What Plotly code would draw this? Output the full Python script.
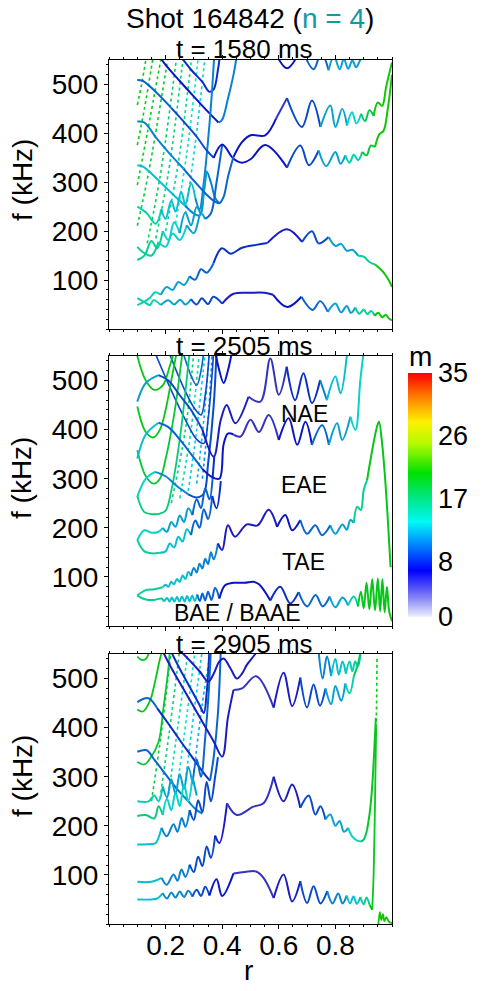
import plotly.graph_objects as go
from plotly.subplots import make_subplots
from plotly.colors import sample_colorscale

# ---------------- data (r, f[kHz]) ----------------
subtitles = ["t = 1580 ms", "t = 2505 ms", "t = 2905 ms"]
y_ticks = [100, 200, 300, 400, 500]
x_ticks = [0.2, 0.4, 0.6, 0.8]
m_ticks = [0, 8, 17, 26, 35]
gap_labels = ["NAE", "EAE", "TAE", "BAE / BAAE"]

# ---- panel 1 (t = 1580 ms)
p1_tae_low = [[0.10,63],[0.125,55],[0.145,49],[0.157,59],[0.183,49],[0.21,59],[0.23,50],[0.251,60],[0.27,50],[0.29,61],[0.31,50],[0.328,63],[0.35,51],[0.369,66],[0.40,52],[0.44,72],[0.50,74],[0.55,74],[0.58,70],[0.63,45],[0.68,66],[0.72,39],[0.746,57],[0.773,35],[0.80,52],[0.82,34],[0.84,47],[0.855,33],[0.87,44],[0.885,31],[0.90,40],[0.913,30],[0.926,37],[0.939,27],[0.952,33],[0.965,24],[0.978,29],[0.99,21],[1.0,18]]
p1_tae_low_m = [[0.10,15],[0.2,12],[0.3,9],[0.42,6],[0.6,7],[0.7,10],[0.78,12],[0.88,16],[0.95,21]]
p1_tae_up = [[0.10,49],[0.125,56],[0.145,64],[0.163,75],[0.183,70],[0.204,86],[0.225,80],[0.245,96],[0.265,90],[0.285,108],[0.305,101],[0.325,122],[0.345,115],[0.369,134],[0.399,165],[0.43,154],[0.47,166],[0.52,172],[0.56,176],[0.629,204],[0.682,178],[0.717,200],[0.741,175],[0.776,188],[0.80,170],[0.82,174],[0.84,160],[0.86,162],[0.88,150],[0.90,148],[0.92,137],[0.94,132],[0.96,122],[0.975,112],[0.99,98],[1.0,86]]
p1_tae_up_m = [[0.10,15],[0.2,12],[0.3,10],[0.38,8],[0.62,6],[0.7,9],[0.78,12],[0.9,16],[0.96,21]]
p1_w1 = [[0.10,141],[0.125,150],[0.15,180],[0.17,165],[0.19,200],[0.21,182],[0.23,218],[0.25,196],[0.27,238],[0.29,212],[0.31,250],[0.325,236],[0.335,280],[0.345,322]]
p1_w1_m = [[0.10,16],[0.2,14],[0.27,12]]
p1_w2 = [[0.10,168],[0.125,155],[0.15,150],[0.175,178],[0.20,168],[0.225,195],[0.25,182],[0.275,212],[0.30,196],[0.325,236],[0.34,225],[0.36,236],[0.38,300],[0.40,377]]
p1_w2_m = [[0.10,16],[0.2,14],[0.28,12],[0.36,10]]
p1_band = [[0.10,250],[0.133,237],[0.165,215],[0.185,245],[0.20,225],[0.22,262],[0.235,240],[0.255,280],[0.27,255],[0.29,298],[0.305,268],[0.32,245],[0.335,300],[0.35,385],[0.362,470],[0.372,560]]
p1_band_m = [[0.10,15],[0.2,13],[0.32,11]]
p1_line1 = [[0.10,509],[0.12,507],[0.17,482],[0.22,452],[0.27,420],[0.31,393],[0.345,365],[0.37,350],[0.40,377],[0.44,348],[0.47,340],[0.50,347],[0.552,376],[0.629,330],[0.676,375],[0.706,335],[0.741,365],[0.768,333],[0.80,362],[0.818,338],[0.835,355],[0.85,340],[0.865,356],[0.88,345],[0.895,362],[0.91,355],[0.925,375],[0.94,372],[0.955,398],[0.97,405],[0.985,450],[1.0,520]]
p1_line1_m = [[0.10,10],[0.25,9],[0.38,7],[0.66,9],[0.75,12],[0.85,15],[0.9,19],[0.95,21]]
p1_line2 = [[0.175,560],[0.20,540],[0.25,507],[0.30,475],[0.34,450],[0.37,432],[0.387,422],[0.40,428],[0.42,470],[0.44,520],[0.452,560]]
p1_line2_m = [[0.175,7],[0.39,11]]
p1_line3 = [[0.10,424],[0.125,422],[0.169,389],[0.215,358],[0.263,328],[0.30,303],[0.346,274],[0.37,262],[0.39,257],[0.405,270],[0.42,310],[0.44,352],[0.47,382],[0.50,396],[0.552,396],[0.59,430],[0.629,472],[0.682,413],[0.717,467],[0.747,413],[0.782,457],[0.80,413],[0.824,450],[0.841,416],[0.859,443],[0.874,420],[0.891,440],[0.905,425],[0.92,447],[0.935,436],[0.95,463],[0.965,456],[0.98,497],[1.0,545]]
p1_line3_m = [[0.10,11],[0.3,10],[0.47,7],[0.6,5],[0.66,9],[0.75,12],[0.85,14],[0.9,18],[0.95,21]]
p1_line4 = [[0.10,335],[0.12,332],[0.18,301],[0.228,274],[0.269,252],[0.30,236],[0.32,232],[0.335,280],[0.345,322],[0.36,300],[0.375,268],[0.39,257]]
p1_line4_m = [[0.10,13],[0.3,11]]
p1_line6 = [[0.25,560],[0.29,530],[0.33,505],[0.355,485],[0.37,490],[0.385,530],[0.392,560]]
p1_line6_m = [[0.25,8]]
p1_nae_top = [[0.58,575],[0.629,533],[0.68,575],[0.723,531],[0.75,565],[0.776,529],[0.795,558],[0.815,531],[0.83,552],[0.845,532],[0.86,549],[0.873,535],[0.886,548],[0.90,565]]
p1_nae_top_m = [[0.58,7],[0.7,10],[0.78,12]]
p1_dotted = [
    [[0.10,458],[0.115,500],[0.133,560]],
    [[0.10,376],[0.125,450],[0.157,560]],
    [[0.10,294],[0.135,400],[0.186,560]],
    [[0.10,211],[0.14,320],[0.21,560]],
    [[0.135,175],[0.18,310],[0.24,560]],
    [[0.165,185],[0.21,320],[0.263,560]],
    [[0.20,200],[0.245,340],[0.293,560]],
    [[0.235,215],[0.275,360],[0.316,560]],
    [[0.27,235],[0.305,380],[0.34,560]]]
p1_dotted_m = [20, 20, 20, 19, 18, 17, 16, 14, 13]

# ---- panel 2 (t = 2505 ms)
p2_tae_low = [[0.10,62],[0.13,54],[0.16,53],[0.185,56],[0.195,50],[0.205,57],[0.214,50],[0.222,58],[0.231,50],[0.24,59],[0.249,50],[0.258,60],[0.267,50],[0.276,61],[0.285,50],[0.294,62],[0.303,51],[0.312,64],[0.321,51],[0.33,66],[0.34,52],[0.35,70],[0.362,53],[0.375,78],[0.39,56],[0.41,83],[0.44,88],[0.48,88],[0.51,90],[0.53,85],[0.57,52],[0.605,80],[0.64,46],[0.67,69],[0.70,40],[0.73,63],[0.755,40],[0.78,60],[0.80,38],[0.825,58],[0.845,42],[0.865,60],[0.88,40],[0.89,70],[0.90,36],[0.91,88],[0.92,34],[0.93,95],[0.94,32],[0.95,97],[0.958,30],[0.966,95],[0.974,28],[0.982,80],[0.99,30],[1.0,10]]
p2_tae_low_m = [[0.10,16],[0.2,13],[0.32,10],[0.4,7],[0.6,8],[0.7,10],[0.8,12],[0.86,15],[0.89,20]]
p2_tae_up = [[0.10,62],[0.13,73],[0.16,75],[0.19,79],[0.20,84],[0.21,80],[0.22,90],[0.23,85],[0.24,96],[0.25,90],[0.26,103],[0.27,96],[0.28,110],[0.29,102],[0.30,118],[0.31,109],[0.32,127],[0.33,117],[0.34,137],[0.35,126],[0.36,150],[0.37,136],[0.385,168],[0.40,155],[0.42,205],[0.445,182],[0.487,207],[0.525,205],[0.564,237],[0.594,202],[0.623,226],[0.647,195],[0.676,216],[0.70,188],[0.729,205],[0.753,185],[0.782,205],[0.80,188],[0.825,207],[0.84,196],[0.853,216],[0.865,210],[0.877,243],[0.89,236],[0.90,277],[0.912,297],[0.93,358],[0.947,406],[0.954,416],[0.965,372],[0.977,290],[0.995,120]]
p2_tae_up_m = [[0.10,16],[0.2,13],[0.3,11],[0.4,6],[0.6,7],[0.7,10],[0.8,12],[0.87,16],[0.92,20]]
p2_nae_up = [[0.10,457],[0.13,495],[0.175,511],[0.21,500],[0.25,470],[0.29,440],[0.33,400],[0.37,345],[0.395,420],[0.416,450],[0.446,413],[0.493,467],[0.535,457],[0.57,545],[0.60,471],[0.628,528],[0.658,460],[0.687,515],[0.717,454],[0.746,501],[0.77,460],[0.80,508],[0.818,474],[0.842,560]]
p2_nae_up_m = [[0.10,12],[0.2,9],[0.35,6],[0.5,5],[0.65,8],[0.75,11],[0.8,13]]
p2_nae_low = [[0.10,341],[0.13,390],[0.175,414],[0.21,405],[0.25,380],[0.29,350],[0.33,320],[0.36,305],[0.39,300],[0.405,370],[0.42,392],[0.44,390],[0.465,386],[0.50,420],[0.53,395],[0.564,430],[0.60,379],[0.635,423],[0.665,369],[0.694,416],[0.717,369],[0.753,409],[0.777,369],[0.806,413],[0.824,379],[0.853,426],[0.871,399],[0.888,500],[0.90,560]]
p2_nae_low_m = [[0.10,13],[0.2,10],[0.35,7],[0.45,5],[0.62,7],[0.72,10],[0.8,12],[0.86,14]]
p2_eae_a = [[0.10,175],[0.125,152],[0.15,148],[0.18,149],[0.20,152],[0.215,168],[0.23,160],[0.245,182],[0.26,172],[0.275,197],[0.29,185],[0.305,215],[0.32,200],[0.335,238],[0.35,218],[0.365,265],[0.38,240],[0.395,295]]
p2_eae_a_m = [[0.10,16],[0.2,13],[0.3,10],[0.37,8]]
p2_eae_b = [[0.10,175],[0.125,195],[0.15,190],[0.175,192],[0.19,200],[0.205,192],[0.22,212],[0.235,202],[0.25,225],[0.265,212],[0.28,240],[0.295,226],[0.31,258],[0.325,240],[0.34,280],[0.355,258],[0.366,300],[0.372,345]]
p2_eae_b_m = [[0.10,14],[0.2,12],[0.3,10],[0.37,8]]
p2_arc = [[0.10,263],[0.13,300],[0.163,314],[0.20,305],[0.24,285],[0.28,268],[0.31,262],[0.335,270],[0.35,330],[0.37,450],[0.38,560]]
p2_arc_m = [[0.10,14],[0.2,11],[0.3,9]]
p2_top_v = [[0.375,560],[0.39,520],[0.405,495],[0.42,520],[0.435,560]]
p2_top_v_m = [[0.375,7]]
p2_green = [
    [[0.10,550],[0.13,500],[0.16,481],[0.19,490],[0.215,530],[0.23,560]],
    [[0.10,447],[0.13,395],[0.157,384],[0.18,400],[0.20,440],[0.22,500],[0.24,560]],
    [[0.10,358],[0.13,305],[0.157,290],[0.18,300],[0.20,340],[0.23,430],[0.26,560]],
    [[0.10,265],[0.125,232],[0.15,228],[0.18,229],[0.20,235],[0.22,275],[0.25,380],[0.285,560]]]
p2_green_m = [20, 20, 19, 17]
p2_dotted = [
    [[0.22,250],[0.27,400],[0.30,560]],
    [[0.25,260],[0.29,400],[0.32,560]],
    [[0.28,275],[0.31,400],[0.34,560]],
    [[0.31,290],[0.335,420],[0.355,560]],
    [[0.33,300],[0.35,420],[0.365,560]]]
p2_dotted_m = [17, 15, 13, 12, 11]
p2_diag = [
    [[0.16,560],[0.22,480],[0.27,420],[0.31,380],[0.335,372],[0.35,420],[0.37,560]],
    [[0.21,560],[0.26,490],[0.30,445],[0.325,430],[0.34,470],[0.355,560]],
    [[0.26,560],[0.29,510],[0.31,490],[0.325,520],[0.335,560]]]
p2_diag_m = [9, 9, 10]

# ---- panel 3 (t = 2905 ms)
p3_tae_low = [[0.10,50],[0.15,50],[0.17,52],[0.19,63],[0.205,52],[0.22,64],[0.235,54],[0.25,66],[0.265,55],[0.28,68],[0.295,56],[0.31,70],[0.325,57],[0.34,76],[0.355,58],[0.38,91],[0.40,57],[0.44,103],[0.48,106],[0.52,107],[0.546,94],[0.582,53],[0.617,101],[0.647,46],[0.676,87],[0.70,43],[0.723,77],[0.747,42],[0.771,67],[0.79,42],[0.81,62],[0.825,42],[0.84,58],[0.852,42],[0.864,56],[0.876,41],[0.888,55],[0.90,40],[0.91,54],[0.92,40],[0.93,29]]
p3_tae_low_m = [[0.10,13],[0.2,11],[0.3,9],[0.38,7],[0.45,5],[0.6,6],[0.7,9],[0.78,11],[0.85,13],[0.9,16],[0.925,20]]
p3_vert = [[0.93,29],[0.935,100],[0.94,250],[0.944,400]]
p3_vert_dot = [[0.944,400],[0.946,470],[0.947,545]]
p3_green_bottom = [[0.952,0],[0.957,24],[0.962,8],[0.968,20],[0.973,6],[0.98,14],[0.99,4],[1.0,2]]
p3_tae_up = [[0.10,86],[0.15,86],[0.186,94],[0.204,80],[0.228,101],[0.242,88],[0.256,111],[0.27,96],[0.285,121],[0.30,106],[0.315,137],[0.33,118],[0.345,158],[0.36,135],[0.375,180],[0.39,165],[0.417,246],[0.452,222],[0.51,239],[0.546,246],[0.582,300],[0.617,250],[0.647,284],[0.676,237],[0.706,262],[0.729,223],[0.747,240],[0.765,213],[0.782,223],[0.80,200],[0.815,210],[0.83,188],[0.845,196],[0.86,178],[0.877,170],[0.89,168],[0.90,172],[0.912,192],[0.922,230],[0.93,280],[0.937,350],[0.943,420]]
p3_tae_up_m = [[0.10,13],[0.2,11],[0.3,9],[0.38,6],[0.45,5],[0.6,6],[0.7,9],[0.78,12],[0.86,14],[0.9,18],[0.92,20]]
p3_a1 = [[0.10,452],[0.139,460],[0.17,440],[0.21,408],[0.25,375],[0.29,343],[0.325,315],[0.345,300],[0.357,292],[0.37,340],[0.385,430],[0.395,560]]
p3_a1_m = [[0.10,10],[0.2,8],[0.36,10]]
p3_a2 = [[0.186,560],[0.22,522],[0.26,482],[0.30,442],[0.34,402],[0.37,372],[0.40,341],[0.42,420],[0.44,477],[0.47,480],[0.52,505],[0.582,441],[0.617,512],[0.647,444],[0.676,502],[0.70,441],[0.723,488],[0.745,445],[0.765,480],[0.785,448],[0.80,485],[0.82,455],[0.835,490],[0.85,470],[0.865,505],[0.88,530],[0.89,560]]
p3_a2_m = [[0.186,6],[0.45,5],[0.6,6],[0.7,9],[0.78,12],[0.84,15],[0.87,18]]
p3_a3 = [[0.10,351],[0.133,354],[0.16,335],[0.20,305],[0.24,275],[0.28,250],[0.31,232],[0.33,225]]
p3_a3_m = [[0.10,10],[0.25,11]]
p3_a4 = [[0.215,560],[0.25,520],[0.29,478],[0.32,446],[0.335,430],[0.345,470],[0.355,560]]
p3_a4_m = [[0.215,8]]
p3_top = [[0.245,560],[0.28,540],[0.32,515],[0.351,494],[0.37,510],[0.39,535],[0.405,541],[0.43,520],[0.452,500],[0.47,510],[0.487,528],[0.51,545],[0.53,560]]
p3_top_m = [[0.245,6]]
p3_top_right = [[0.74,560],[0.755,500],[0.77,545],[0.785,505],[0.80,540],[0.812,508],[0.825,535],[0.837,510],[0.85,535],[0.86,515],[0.87,535],[0.88,525],[0.89,560]]
p3_top_right_m = [[0.74,11],[0.8,13],[0.85,15]]
p3_cyan_band = [[0.10,250],[0.14,250],[0.16,262],[0.175,250],[0.19,280],[0.205,258],[0.22,295],[0.235,265],[0.25,305],[0.265,275],[0.28,320],[0.295,285],[0.31,335],[0.325,300],[0.34,380],[0.352,470],[0.36,560]]
p3_cyan_band_m = [[0.10,15],[0.2,12],[0.3,10]]
p3_green_band = [[0.10,220],[0.13,222],[0.16,215],[0.175,240],[0.19,222],[0.205,255],[0.22,232],[0.235,268],[0.25,240],[0.265,285],[0.28,250],[0.295,300],[0.31,262]]
p3_green_band_m = [[0.10,17],[0.2,14],[0.3,12]]
p3_eae = [[0.10,162],[0.15,163],[0.165,165],[0.186,196],[0.204,179],[0.228,203],[0.242,188],[0.257,216],[0.27,198],[0.285,232],[0.30,212],[0.315,252],[0.33,228],[0.345,290],[0.36,250],[0.375,300],[0.385,340]]
p3_eae_m = [[0.10,13],[0.2,11],[0.3,9]]
p3_green = [
    [[0.10,545],[0.115,538],[0.13,540],[0.145,560]],
    [[0.10,437],[0.12,433],[0.145,455],[0.165,500],[0.18,540],[0.19,560]],
    [[0.10,330],[0.125,325],[0.145,337],[0.175,371],[0.192,439],[0.21,521],[0.215,560]]]
p3_green_m = [20, 20, 19]
p3_dotted = [
    [[0.15,250],[0.185,390],[0.22,560]],
    [[0.18,255],[0.215,400],[0.25,560]],
    [[0.21,262],[0.245,410],[0.28,560]],
    [[0.24,275],[0.275,425],[0.305,560]],
    [[0.27,290],[0.30,430],[0.33,560]],
    [[0.30,310],[0.33,450],[0.36,560]]]
p3_dotted_m = [19, 17, 15, 14, 13, 12]

# ---------------- colours ----------------
CS = [[0.0, 'rgb(240,240,255)'], [0.08, 'rgb(130,130,245)'], [0.19, 'rgb(0,0,255)'],
      [0.31, 'rgb(0,150,255)'], [0.39, 'rgb(0,250,245)'], [0.49, 'rgb(0,230,130)'],
      [0.59, 'rgb(0,225,0)'], [0.71, 'rgb(180,250,0)'], [0.80, 'rgb(255,240,0)'],
      [0.89, 'rgb(255,140,0)'], [1.0, 'rgb(255,0,0)']]


def mcolor(m, dotted=False):
    c = sample_colorscale(CS, [min(max(m / 35.0, 0), 1)])[0]
    v = [float(t) for t in c[c.find('(') + 1:c.find(')')].split(',')]
    k = 0.9 if dotted else 0.72 + 0.13 * min(1.0, max(0.0, (m - 6) / 10.0))
    v = [x * k + 40 * (1 - k) for x in v]
    return 'rgb(%d,%d,%d)' % tuple(int(x) for x in v)


fig = make_subplots(rows=3, cols=1)


def add_curve(pts, mb, row, dash='solid', width=2.0):
    if not isinstance(mb, list):
        mb = [[pts[0][0], mb]]
    rs = [p[0] for p in pts]
    for i, (rb, m) in enumerate(mb):
        re_ = mb[i + 1][0] if i + 1 < len(mb) else 9e9
        idx = [k for k in range(len(pts)) if rb <= rs[k] < re_]
        if not idx:
            continue
        if idx[0] > 0:
            idx = [idx[0] - 1] + idx
        fig.add_trace(go.Scatter(
            x=[pts[k][0] for k in idx], y=[pts[k][1] for k in idx],
            mode='lines', line=dict(color=mcolor(m, dash == 'dot'),
                                    width=width, dash=dash, shape='spline', smoothing=1.0),
            hoverinfo='skip', showlegend=False), row=row, col=1)


# panel 1
for pts, m in zip(p1_dotted, p1_dotted_m):
    add_curve(pts, m, 1, dash='dot', width=1.6)
for pts, mb in [(p1_line6, p1_line6_m), (p1_line2, p1_line2_m), (p1_line4, p1_line4_m),
                (p1_band, p1_band_m), (p1_w1, p1_w1_m), (p1_w2, p1_w2_m),
                (p1_line1, p1_line1_m), (p1_line3, p1_line3_m),
                (p1_nae_top, p1_nae_top_m), (p1_tae_up, p1_tae_up_m), (p1_tae_low, p1_tae_low_m)]:
    add_curve(pts, mb, 1)

# panel 2
for pts, m in zip(p2_dotted, p2_dotted_m):
    add_curve(pts, m, 2, dash='dot', width=1.6)
for pts, m in zip(p2_diag, p2_diag_m):
    add_curve(pts, m, 2, width=1.6)
for pts, m in zip(p2_green, p2_green_m):
    add_curve(pts, m, 2, width=1.8)
for pts, mb in [(p2_arc, p2_arc_m), (p2_eae_a, p2_eae_a_m), (p2_eae_b, p2_eae_b_m),
                (p2_top_v, p2_top_v_m), (p2_nae_up, p2_nae_up_m), (p2_nae_low, p2_nae_low_m),
                (p2_tae_up, p2_tae_up_m), (p2_tae_low, p2_tae_low_m)]:
    add_curve(pts, mb, 2)

# panel 3
for pts, m in zip(p3_dotted, p3_dotted_m):
    add_curve(pts, m, 3, dash='dot', width=1.6)
for pts, m in zip(p3_green, p3_green_m):
    add_curve(pts, m, 3, width=1.8)
for pts, mb in [(p3_a4, p3_a4_m), (p3_a1, p3_a1_m), (p3_a3, p3_a3_m), (p3_cyan_band, p3_cyan_band_m),
                (p3_green_band, p3_green_band_m), (p3_eae, p3_eae_m), (p3_top, p3_top_m),
                (p3_top_right, p3_top_right_m), (p3_a2, p3_a2_m),
                (p3_tae_up, p3_tae_up_m), (p3_tae_low, p3_tae_low_m)]:
    add_curve(pts, mb, 3)
add_curve(p3_vert, 20, 3, width=1.8)
add_curve(p3_vert_dot, 20, 3, dash='dot', width=1.6)
add_curve(p3_green_bottom, 21, 3, width=1.8)

# colourbar carrier
fig.add_trace(go.Scatter(
    x=[0.5], y=[-1000], mode='markers', hoverinfo='skip', showlegend=False,
    marker=dict(color=[0], cmin=0, cmax=35, colorscale=CS, showscale=True, size=1,
                colorbar=dict(x=1.0565, xanchor='left', y=0.5005, yanchor='middle',
                              len=0.2462, lenmode='fraction', thickness=24,
                              outlinewidth=0, tickvals=m_ticks, ticks='',
                              tickfont=dict(size=27, color='black'), xpad=0, ypad=0))),
    row=1, col=1)

FONT = "Liberation Sans, Arial, sans-serif"
doms = [[0.668, 0.9395], [0.3683, 0.6408], [0.0676, 0.34]]
for i in range(3):
    ax = '' if i == 0 else str(i + 1)
    fig.layout['xaxis' + ax].update(
        range=[0, 1], domain=[0, 1], showline=True, linecolor='black', linewidth=1,
        mirror='ticks', ticks='outside', ticklen=4, tickcolor='black',
        tickvals=x_ticks, showticklabels=(i == 2), showgrid=False, zeroline=False,
        tickfont=dict(size=28, color='black'), ticklabelstandoff=-8,
        minor=dict(ticks='outside', ticklen=2, dtick=0.05, tick0=0, tickcolor='black', showgrid=False))
    fig.layout['yaxis' + ax].update(
        range=[0, 550], domain=doms[i], showline=True, linecolor='black', linewidth=1,
        mirror=True, ticks='outside', ticklen=4, tickcolor='black',
        tickvals=y_ticks, showgrid=False, zeroline=False,
        tickfont=dict(size=28, color='black'),
        minor=dict(ticks='outside', ticklen=2, dtick=20, tick0=0, tickcolor='black', showgrid=False))


def A(text, px, py, size, **kw):
    return dict(text=text, x=(px - 109) / 283, y=1 - py / 991, xref='paper', yref='paper',
                xanchor='center', yanchor='middle', showarrow=False, font=dict(size=size), **kw)


ann = [A('Shot 164842 (<span style="color:#17989f">n = 4</span>)', 250, 18, 28)]
for txt, yc in zip(subtitles, [49, 346, 644]):
    ann.append(A(txt, 244, yc, 26))
for yc in [180, 478, 776]:
    ann.append(A('f (kHz)', 22, yc, 28, textangle=-90))
ann.append(A('r', 248, 970, 28))
ann.append(A('m', 420, 356, 28))
for txt, px, py in zip(gap_labels, [304, 304, 303, 237], [414, 485, 562, 613]):
    ann.append(A(txt, px, py, 23))

fig.update_layout(width=483, height=991, margin=dict(l=109, r=91, t=0, b=0),
                  plot_bgcolor='white', paper_bgcolor='white',
                  font=dict(family=FONT, color='black'), annotations=ann,
                  showlegend=False, hovermode=False)
fig.write_html("out.html")
